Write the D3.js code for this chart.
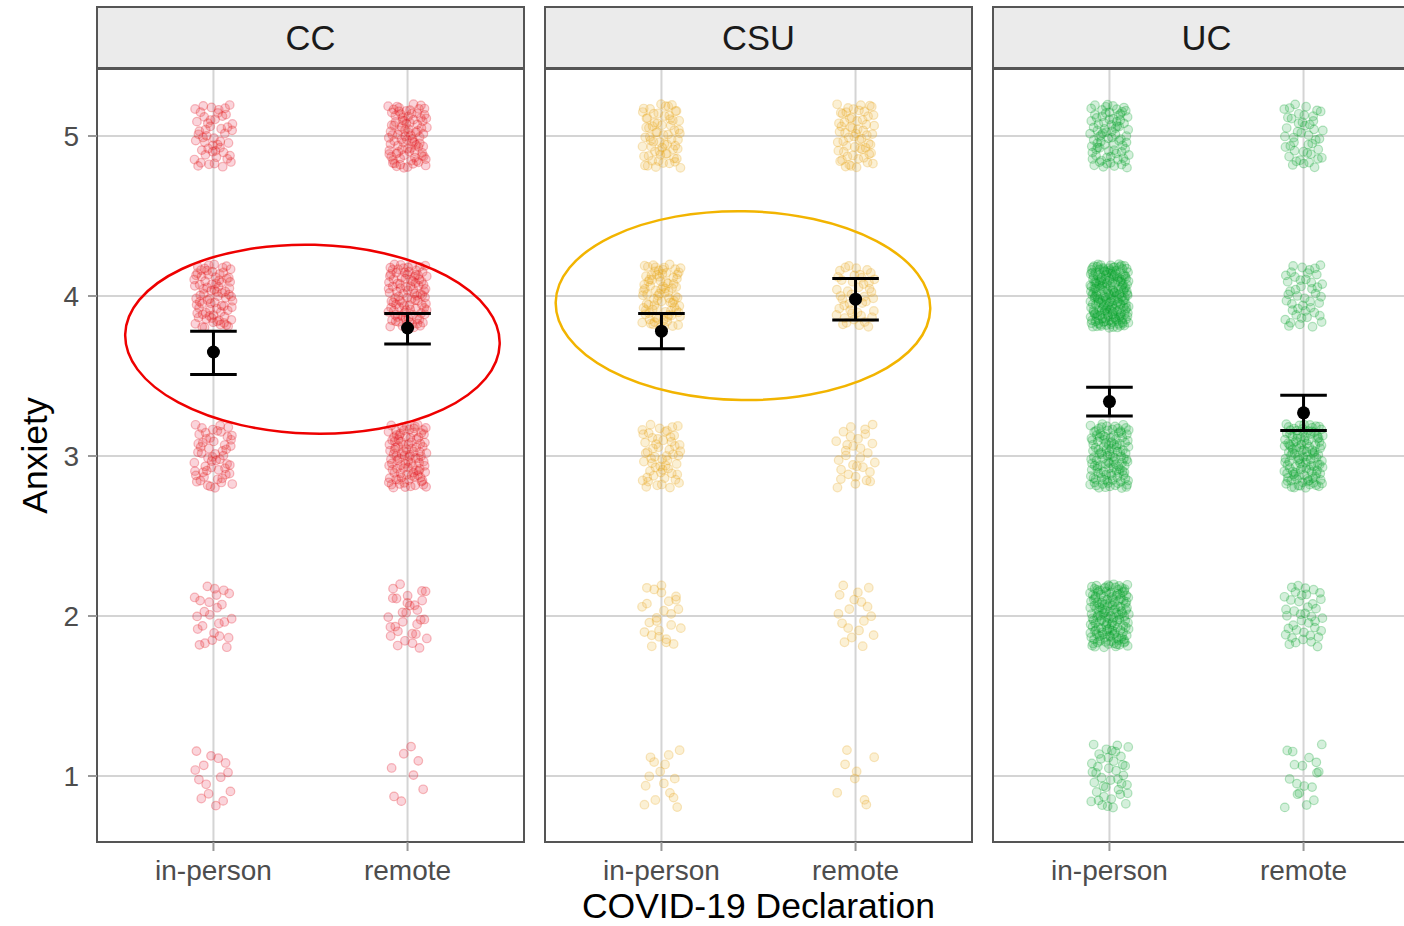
<!DOCTYPE html>
<html>
<head>
<meta charset="utf-8">
<script src="https://cdn.jsdelivr.net/npm/d3@7"></script>
<style>
  body { margin: 0; background: #fff; }
  text { font-family: "Liberation Sans", Arial, Helvetica, sans-serif; }
</style>
</head>
<body>
<svg id="chart" width="1404" height="926"></svg>
<script>
// ---- data -------------------------------------------------------------
const campuses = ["CC", "CSU", "UC"];
const declarations = ["in-person", "remote"];
const anxietyLevels = [1, 2, 3, 4, 5];
const yTicks = [1, 2, 3, 4, 5];

// respondents at each anxiety level 1..5, per declaration
const countsCC  = { "in-person": [15, 25, 55, 80, 50],  "remote": [8, 30, 100, 100, 90] };
const countsCSU = { "in-person": [15, 25, 55, 85, 65],  "remote": [8, 18, 30, 45, 60] };
const countsUC  = { "in-person": [40, 150, 120, 200, 80], "remote": [18, 40, 120, 45, 45] };

// mean anxiety with interval bounds, order: in-person, remote
const meanCC  = [3.65, 3.80], lowerCC  = [3.51, 3.70], upperCC  = [3.78, 3.89];
const meanCSU = [3.78, 3.98], lowerCSU = [3.67, 3.85], upperCSU = [3.89, 4.11];
const meanUC  = [3.34, 3.27], lowerUC  = [3.25, 3.16], upperUC  = [3.43, 3.38];

const campusColors = ["#e4141c", "#e6a419", "#0aa02c"];

// highlighted comparisons (x in category units, y in anxiety units)
const highlightCampus = ["CC", "CSU"];
const highlightX      = [1.51, 1.42];
const highlightY      = [3.73, 3.94];
const highlightRX     = [0.965, 0.965];
const highlightRY     = [0.59, 0.59];
const highlightTilt   = [1.5, 1];
const highlightColor  = ["#ee0000", "#f2b400"];

const counts = { CC: countsCC, CSU: countsCSU, UC: countsUC };
const means  = { CC: meanCC, CSU: meanCSU, UC: meanUC };
const lowers = { CC: lowerCC, CSU: lowerCSU, UC: lowerUC };
const uppers = { CC: upperCC, CSU: upperCSU, UC: upperUC };

// ---- layout -----------------------------------------------------------
const svg = d3.select("#chart");
const panelW = 427, panelGap = 21, firstLeft = 97;
const stripTop = 7, stripH = 61, panelTop = 69, panelBottom = 842;

const y = d3.scaleLinear().domain([0.5875, 5.41875]).range([panelBottom, panelTop]);

// deterministic low-discrepancy offsets for the jitter
function halton(i, b) {
  let f = 1, r = 0;
  while (i > 0) { f /= b; r += f * (i % b); i = Math.floor(i / b); }
  return r;
}

const gridColor = "#d4d4d4", borderColor = "#555555";

campuses.forEach((campus, ci) => {
  const left = firstLeft + ci * (panelW + panelGap);
  const x = d3.scaleLinear().domain([0.4, 2.6]).range([left, left + panelW]);
  const xCat = d => declarations.indexOf(d) + 1;
  const g = svg.append("g");

  // grid
  g.selectAll(".hgrid").data(yTicks).join("line")
    .attr("x1", left).attr("x2", left + panelW)
    .attr("y1", d => y(d)).attr("y2", d => y(d))
    .attr("stroke", gridColor).attr("stroke-width", 2);
  g.selectAll(".vgrid").data(declarations).join("line")
    .attr("x1", d => x(xCat(d))).attr("x2", d => x(xCat(d)))
    .attr("y1", panelTop).attr("y2", panelBottom)
    .attr("stroke", gridColor).attr("stroke-width", 2);

  // jittered responses
  const pts = [];
  let seed = 1 + ci * 997;
  declarations.forEach(dec => {
    anxietyLevels.forEach((lvl, li) => {
      const n = counts[campus][dec][li];
      for (let k = 0; k < n; k++) {
        seed++;
        pts.push({
          x: xCat(dec) + (halton(seed, 2) * 2 - 1) * 0.1,
          y: lvl + (halton(seed, 3) * 2 - 1) * 0.2
        });
      }
    });
  });
  g.append("g").attr("filter", "url(#soft)").selectAll("circle").data(pts).join("circle")
    .attr("cx", d => x(d.x)).attr("cy", d => y(d.y)).attr("r", 4.3)
    .attr("fill", campusColors[ci]).attr("fill-opacity", 0.17)
    .attr("stroke", campusColors[ci]).attr("stroke-opacity", 0.28).attr("stroke-width", 1.2);

  // interval bars and means
  const summary = declarations.map((dec, i) => ({
    x: xCat(dec), m: means[campus][i], lo: lowers[campus][i], hi: uppers[campus][i]
  }));
  const capW = x(1.12) - x(1);
  const eb = g.append("g").attr("stroke", "#000").attr("stroke-width", 3);
  eb.selectAll(".stem").data(summary).join("line")
    .attr("x1", d => x(d.x)).attr("x2", d => x(d.x))
    .attr("y1", d => y(d.lo)).attr("y2", d => y(d.hi));
  eb.selectAll(".capHi").data(summary).join("line")
    .attr("x1", d => x(d.x) - capW).attr("x2", d => x(d.x) + capW)
    .attr("y1", d => y(d.hi)).attr("y2", d => y(d.hi));
  eb.selectAll(".capLo").data(summary).join("line")
    .attr("x1", d => x(d.x) - capW).attr("x2", d => x(d.x) + capW)
    .attr("y1", d => y(d.lo)).attr("y2", d => y(d.lo));
  g.selectAll(".mean").data(summary).join("circle")
    .attr("cx", d => x(d.x)).attr("cy", d => y(d.m)).attr("r", 6.5).attr("fill", "#000");

  // panel border
  g.append("rect").attr("x", left).attr("y", panelTop)
    .attr("width", panelW).attr("height", panelBottom - panelTop)
    .attr("fill", "none").attr("stroke", borderColor).attr("stroke-width", 2);

  // strip
  g.append("rect").attr("x", left).attr("y", stripTop)
    .attr("width", panelW).attr("height", stripH)
    .attr("fill", "#ebebeb").attr("stroke", borderColor).attr("stroke-width", 2);
  g.append("text").attr("x", left + panelW / 2).attr("y", stripTop + stripH / 2 + 12)
    .attr("text-anchor", "middle").attr("font-size", 34.5).attr("fill", "#1a1a1a")
    .text(campus);

  // x axis ticks and labels
  g.selectAll(".xtick").data(declarations).join("line")
    .attr("x1", d => x(xCat(d))).attr("x2", d => x(xCat(d)))
    .attr("y1", panelBottom).attr("y2", panelBottom + 9)
    .attr("stroke", "#999").attr("stroke-width", 2);
  g.selectAll(".xlab").data(declarations).join("text")
    .attr("x", d => x(xCat(d))).attr("y", 880)
    .attr("text-anchor", "middle").attr("font-size", 28).attr("fill", "#4d4d4d")
    .text(d => d);

  // highlight ellipses
  highlightCampus.forEach((hc, hi) => {
    if (hc !== campus) return;
    const cx = x(highlightX[hi]), cy = y(highlightY[hi]);
    g.append("ellipse")
      .attr("cx", cx).attr("cy", cy)
      .attr("rx", x(highlightX[hi] + highlightRX[hi]) - cx)
      .attr("ry", cy - y(highlightY[hi] + highlightRY[hi]))
      .attr("transform", `rotate(${highlightTilt[hi]},${cx},${cy})`)
      .attr("fill", "none").attr("stroke", highlightColor[hi]).attr("stroke-width", 2.5);
  });
});

// slight softening for the dense point clouds
const defs = svg.insert("defs", ":first-child");
defs.append("filter").attr("id", "soft")
  .append("feGaussianBlur").attr("stdDeviation", 0.4);

// y axis
const yAxis = svg.append("g");
yAxis.selectAll("line").data(yTicks).join("line")
  .attr("x1", firstLeft - 9).attr("x2", firstLeft)
  .attr("y1", d => y(d)).attr("y2", d => y(d))
  .attr("stroke", "#999").attr("stroke-width", 2);
yAxis.selectAll("text").data(yTicks).join("text")
  .attr("x", 79).attr("y", d => y(d) + 10)
  .attr("text-anchor", "end").attr("font-size", 28).attr("fill", "#4d4d4d")
  .text(d => d);

// axis titles
svg.append("text").attr("transform", `translate(47,${(panelTop + panelBottom) / 2}) rotate(-90)`)
  .attr("text-anchor", "middle").attr("font-size", 35.5).attr("fill", "#000")
  .text("Anxiety");
svg.append("text").attr("x", firstLeft + (3 * panelW + 2 * panelGap) / 2).attr("y", 918)
  .attr("text-anchor", "middle").attr("font-size", 35.5).attr("fill", "#000")
  .text("COVID-19 Declaration");
</script>
</body>
</html>
